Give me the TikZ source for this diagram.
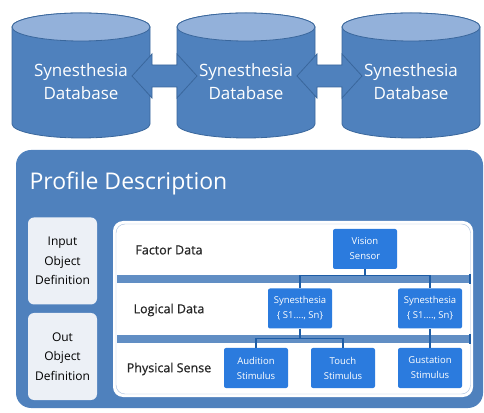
\documentclass[tikz,border=0pt]{standalone}
\usepackage{fontspec}
\setmainfont{Open Sans}
\newfontfamily\semifont[FakeBold=0.7]{Open Sans}
\usetikzlibrary{positioning, calc}

\definecolor{panelblue}{HTML}{4F81BD}
\definecolor{dbedge}{HTML}{3A679C}
\definecolor{dbtopfill}{HTML}{93B1DA}
\definecolor{boxblue}{HTML}{2B7BDE}
\definecolor{linkblue}{HTML}{1E5DA6}
\definecolor{defgray}{HTML}{ECF0F6}
\definecolor{rimblue}{HTML}{A7BDDC}

\begin{document}
\begin{tikzpicture}[
            x = 1pt, y = 1pt, % one unit is one pixel
            dbbody/.style = {fill = panelblue, draw = dbedge, thick},
            dbtop/.style = {fill = dbtopfill, draw = dbedge, thick},
            dbtext/.style = {text = white, align = center, font = \fontsize{17}{23}\selectfont},
            dbarrow/.style = {fill = panelblue, draw = dbedge, thick, line join = miter},
            defbox/.style = {fill = defgray, rounded corners = 6pt, minimum width = 69pt,
                             minimum height = 87pt, align = center, inner sep = 0pt,
                             font = \fontsize{12}{19.5}\selectfont},
            rowlabel/.style = {text = black!85, font = \semifont\fontsize{12.5}{15}\selectfont},
            sensebox/.style = {fill = boxblue, text = white, rounded corners = 2pt,
                               minimum width = 64pt, minimum height = 40pt, inner sep = 0pt,
                               align = center, font = \fontsize{9.5}{15}\selectfont},
            link/.style = {draw = linkblue, line width = 1.2pt}
        ]

        \useasboundingbox (0,0) rectangle (484,412);

        % databases
        \foreach \cx/\nm in {81/dba, 246/dbb, 411/dbc} {
            \draw[dbbody] (\cx-69,385) -- (\cx-69,288)
                arc[start angle = 180, end angle = 360, x radius = 69, y radius = 14]
                -- (\cx+69,385)
                arc[start angle = 0, end angle = 180, x radius = 69, y radius = 14] -- cycle;
            \draw[dbtop] (\cx,385) ellipse[x radius = 69, y radius = 14];
            \node[dbtext] (\nm) at (\cx,330.5) {Synesthesia\\Database};
        }

        % exchange arrows
        \foreach \ax in {164.5, 329.5} {
            \coordinate (ar) at (\ax,336);
            \draw[dbarrow] ($(ar)+(-32.5,0)$) -- ++(20,22) -- ++(0,-11) -- ++(25,0)
                -- ++(0,11) -- ++(20,-22) -- ++(-20,-22) -- ++(0,11) -- ++(-25,0)
                -- ++(0,-11) -- cycle;
        }

        % profile panel
        \fill[panelblue, rounded corners = 15pt] (16,4) rectangle (483,262);
        \node[anchor = west, text = white, font = \fontsize{23}{28}\selectfont] (title)
            at (26,229) {Profile Description};

        \node[defbox] (inp) at (62.5,151) {Input\\Object\\Definition};
        \node[defbox] (outp) at (62.5,55.5) {Out\\Object\\Definition};

        % rows
        \fill[white, rounded corners = 10pt] (113,15) rectangle (473,191);
        \draw[rimblue, rounded corners = 9pt] (116,18) rectangle (470.5,188);
        \fill[panelblue!90!white] (116.5,129) rectangle (470,137);
        \fill[panelblue!90!white] (116.5,69) rectangle (470,77);
        \draw[linkblue, line width = 1.5pt] (470,128) -- (470,138);
        \draw[linkblue, line width = 1.5pt] (470,68) -- (470,78);

        \node[rowlabel] (fac) at (169,162) {Factor Data};
        \node[rowlabel] (log) at (169,102) {Logical Data};
        \node[rowlabel] (phy) at (169,43) {Physical Sense};

        % tree
        \node[sensebox] (vis) at (365,163) {Vision\\Sensor};
        \node[sensebox] (syna) at (300,103.5) {Synesthesia\\\{ S1...., Sn\}};
        \node[sensebox] (synb) at (430,103.5) {Synesthesia\\\{ S1...., Sn\}};
        \node[sensebox] (aud) at (256,44) {Audition\\Stimulus};
        \node[sensebox] (tch) at (343,44) {Touch\\Stimulus};
        \node[sensebox] (gus) at (430,44) {Gustation\\Stimulus};

        \draw[link] (vis.south) -- ++(0,-6.5) -| (syna.north);
        \draw[link] (vis.south) -- ++(0,-6.5) -| (synb.north);
        \draw[link] (syna.south) -- ++(0,-10) -| (aud.north);
        \draw[link] (syna.south) -- ++(0,-10) -| (tch.north);
        \draw[link] (synb.south) -- (gus.north);

\end{tikzpicture}
\end{document}
